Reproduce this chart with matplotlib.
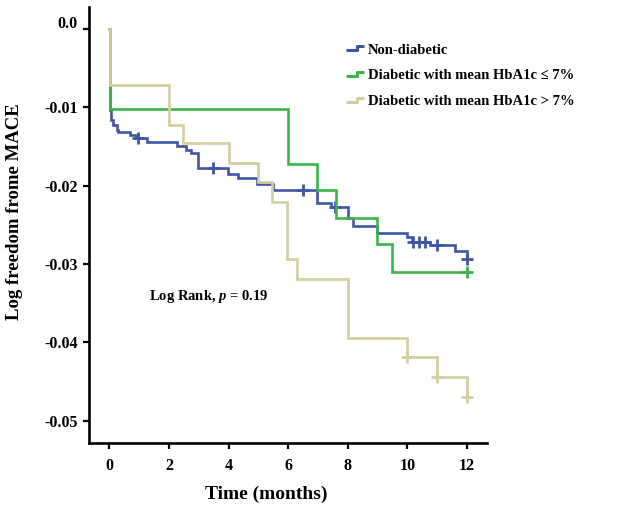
import matplotlib
matplotlib.use("Agg")
import matplotlib.pyplot as plt
import matplotlib.transforms as mtransforms
from matplotlib.path import Path
from matplotlib.lines import Line2D

plt.rcParams['font.family'] = ['Liberation Serif', 'DejaVu Serif']
plt.rcParams['font.weight'] = 'bold'
plt.rcParams['mathtext.fontset'] = 'custom'
plt.rcParams['mathtext.rm'] = 'Liberation Serif:bold'
plt.rcParams['mathtext.it'] = 'Liberation Serif:bold:italic'
plt.rcParams['mathtext.bf'] = 'Liberation Serif:bold'

# ---- data (time in months, log freedom from MACE) ----
labels = ["Non-diabetic", "Diabetic with mean HbA1c \u2264 7%", "Diabetic with mean HbA1c > 7%"]
colors = ["#3F56A6", "#3CB44B", "#D4CE9E"]

blue_t = [0.0, 0.02, 0.06, 0.13, 0.25, 0.30, 0.69, 0.90, 1.25, 2.28, 2.56, 2.73, 2.99,
          3.97, 4.30, 4.95, 5.50, 6.96, 7.44, 8.00, 8.19, 8.97, 9.98, 10.15, 10.75,
          11.60, 12.0]
blue_v = [0.0, -0.0104, -0.0116, -0.0123, -0.0129, -0.0132, -0.01354, -0.01396, -0.01447,
          -0.0149, -0.01545, -0.01588, -0.01779, -0.01858, -0.01905, -0.0198, -0.02053,
          -0.02226, -0.0227, -0.0241, -0.02516, -0.0260, -0.02653, -0.02716, -0.02759,
          -0.02831, -0.02941]
blue_cens_t = [0.97, 3.49, 6.49, 7.57, 10.2, 10.4, 10.6, 11.0, 12.0]
blue_cens_v = [-0.01396, -0.01779, -0.02053, -0.0227, -0.02716, -0.02716, -0.02716,
               -0.02759, -0.02941]

green_t = [0.0, 0.02, 5.99, 6.98, 7.60, 8.99, 9.48, 12.0]
green_v = [0.0, -0.0102, -0.0172, -0.0206, -0.0241, -0.0275, -0.0310, -0.0310]
green_cens_t = [12.0]
green_cens_v = [-0.0310]

tan_t = [0.0, 0.02, 2.00, 2.48, 4.00, 5.00, 5.47, 5.97, 6.29, 8.00, 10.00, 10.99, 12.0]
tan_v = [0.0, -0.0072, -0.0122, -0.0146, -0.0171, -0.0196, -0.0221, -0.0294, -0.0319,
         -0.0394, -0.0419, -0.0445, -0.0470]
tan_cens_t = [10.0, 11.0, 12.0]
tan_cens_v = [-0.0419, -0.0445, -0.0470]

xticks = [0, 2, 4, 6, 8, 10, 12]
yticks = [0.0, -0.01, -0.02, -0.03, -0.04, -0.05]
ytick_labels = ["0.0", "-0.01", "-0.02", "-0.03", "-0.04", "-0.05"]

# ---- figure ----
fig = plt.figure(figsize=(6.22, 5.16), dpi=100)
ax = fig.add_axes([0.1436, 0.1415, 0.7825 - 0.1436, 0.9864 - 0.1415])

series = [(blue_t, blue_v, blue_cens_t, blue_cens_v),
          (green_t, green_v, green_cens_t, green_cens_v),
          (tan_t, tan_v, tan_cens_t, tan_cens_v)]
lw = 1.9
for (t, v, ct, cv), c in zip(series, colors):
    ax.step(t, v, where='post', color=c, lw=lw, solid_joinstyle='miter')
    ax.plot(ct, cv, ls='none', marker='+', ms=8, mew=2.0, color=c)

ax.set_xlim(-0.671, 12.66)
ax.set_ylim(-0.05287, 0.00281)
ax.set_xticks(xticks)
ax.set_xticklabels([str(x) for x in xticks])
ax.set_yticks(yticks)
ax.set_yticklabels(ytick_labels)

for s in ['top', 'right']:
    ax.spines[s].set_visible(False)
for s in ['left', 'bottom']:
    ax.spines[s].set_linewidth(1.9)
ax.tick_params(axis='both', direction='out', length=4.5, width=1.6, labelsize=11.5, pad=4)
ax.tick_params(axis='x', pad=6)
for lab in ax.get_xticklabels() + ax.get_yticklabels():
    lab.set_fontweight('bold')
# top label sits slightly above its tick in the reference
top_lab = ax.get_yticklabels()[0]
top_lab.set_transform(top_lab.get_transform() +
                      mtransforms.ScaledTranslation(0, 5 / 72, fig.dpi_scale_trans))

ax.set_xlabel("Time (months)", fontsize=14, fontweight='bold')
ax.xaxis.set_label_coords(0.446, -0.099)
ax.set_ylabel("Log freedom frome MACE", fontsize=13.5, fontweight='bold')
ax.yaxis.set_label_coords(-0.166, 0.53)

ax.text(1.33, -0.0341, r"Log Rank, $\mathit{p}$ = 0.19", fontsize=10.5,
        fontweight='bold', va='center', ha='left')

# legend with step-shaped glyphs
step_path = Path([(-1.0, -0.22), (0.15, -0.22), (0.15, 0.22), (0.8, 0.22)],
                 [Path.MOVETO, Path.LINETO, Path.LINETO, Path.LINETO])
handles = [Line2D([], [], ls='none', marker=step_path, ms=14, mew=2.2,
                  mfc='none', mec=c) for c in colors]
leg = ax.legend(handles, labels, loc='upper left', bbox_to_anchor=(0.634, 0.93),
                frameon=False, handlelength=1.2, handletextpad=0.2,
                labelspacing=0.85, borderaxespad=0, numpoints=1,
                prop={'weight': 'bold', 'size': 10.5})

fig.savefig("out.png", dpi=100)
